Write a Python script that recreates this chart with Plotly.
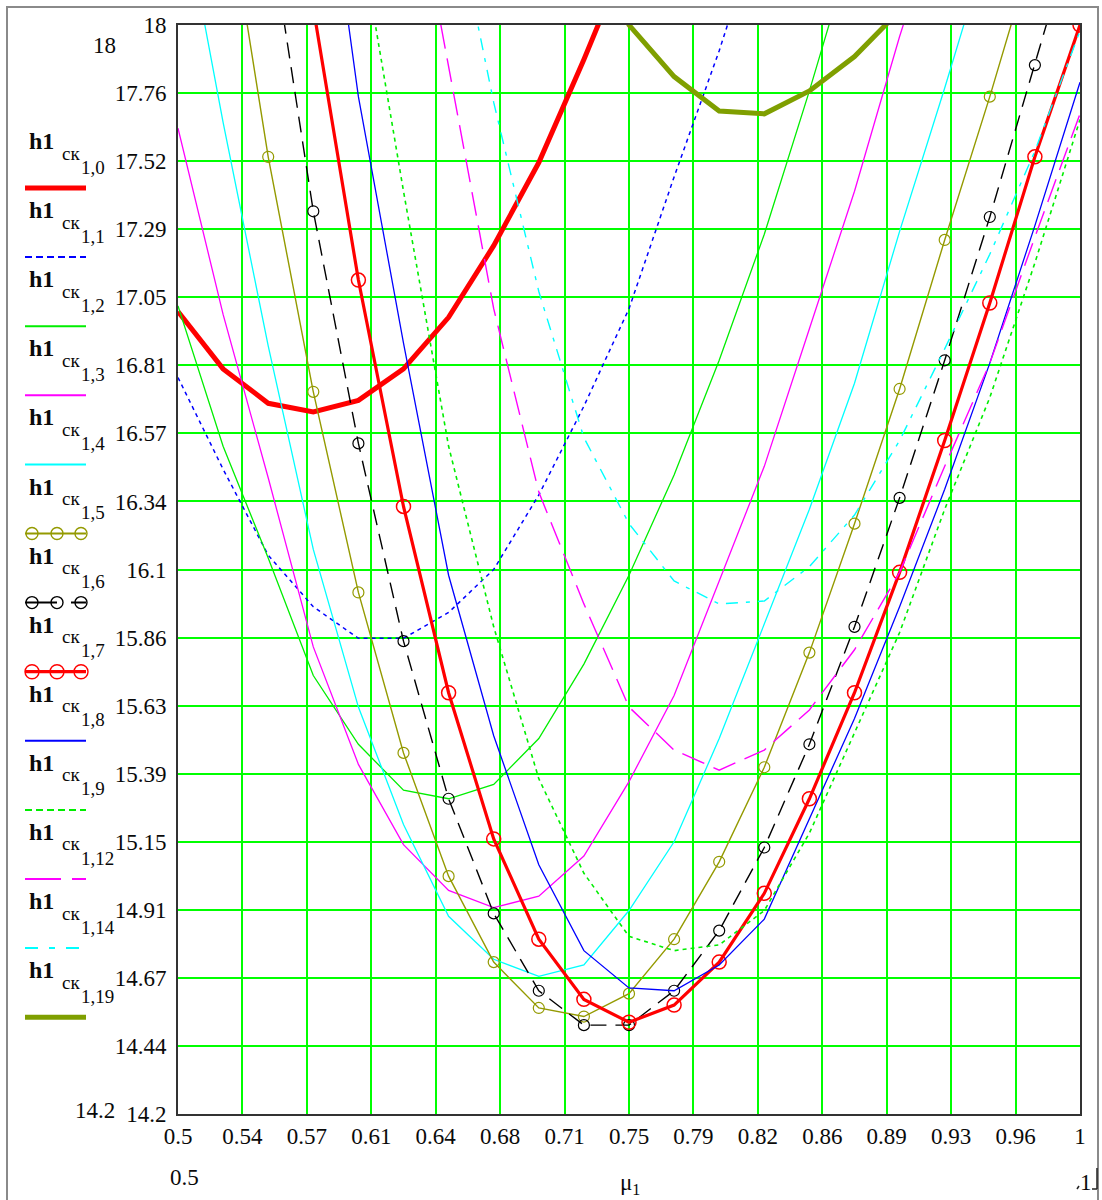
import plotly.graph_objects as go
import numpy as np

# ---------------- data ----------------
mu = [0.5, 0.525, 0.55, 0.575, 0.6, 0.625, 0.65, 0.675, 0.7, 0.725, 0.75,
      0.775, 0.8, 0.825, 0.85, 0.875, 0.9, 0.925, 0.95, 0.975, 1.0]

h_ck_1_0 = [17.0, 16.80, 16.68, 16.65, 16.69, 16.80, 16.98, 17.23, 17.52, 17.88, 18.26,
            None, None, None, None, None, None, None, None, None, None]
h_ck_1_1 = [16.77, 16.45, 16.15, 15.97, 15.86, 15.86, 15.95, 16.10, 16.36, 16.67, 17.01,
            17.47, 17.91, 18.4, None, None, None, None, None, None, None]
h_ck_1_2 = [17.02, 16.53, 16.14, 15.73, 15.49, 15.33, 15.30, 15.35, 15.51, 15.77, 16.08,
            16.43, 16.83, 17.27, 17.77, 18.3, None, None, None, None, None]
h_ck_1_3 = [17.64, 16.99, 16.42, 15.83, 15.42, 15.14, 14.98, 14.92, 14.96, 15.10, 15.36,
            15.66, 16.06, 16.46, 16.94, 17.42, 17.96, 18.45, None, None, None]
h_ck_1_4 = [18.5, 17.66, 16.88, 16.17, 15.62, 15.21, 14.89, 14.74, 14.68, 14.72, 14.91,
            15.15, 15.51, 15.91, 16.31, 16.75, 17.28, 17.78, 18.3, None, None]
h_ck_1_5 = [None, 18.53, 17.54, 16.72, 16.02, 15.46, 15.03, 14.73, 14.57, 14.54, 14.62,
            14.81, 15.08, 15.41, 15.81, 16.26, 16.73, 17.25, 17.75, 18.28, None]
h_ck_1_6 = [None, None, 18.37, 17.35, 16.54, 15.85, 15.30, 14.90, 14.63, 14.51, 14.51,
            14.63, 14.84, 15.13, 15.49, 15.90, 16.35, 16.83, 17.33, 17.86, 18.4]
h_ck_1_7 = [None, None, None, 18.06, 17.11, 16.32, 15.67, 15.16, 14.81, 14.60, 14.52,
            14.58, 14.73, 14.97, 15.30, 15.67, 16.09, 16.55, 17.03, 17.54, 18.0]
h_ck_1_8 = [None, None, None, 18.9, 17.75, 16.89, 16.08, 15.52, 15.07, 14.77, 14.64,
            14.63, 14.72, 14.88, 15.23, 15.58, 15.97, 16.38, 16.82, 17.30, 17.80]
h_ck_1_9 = [None, None, None, None, 18.35, 17.42, 16.53, 15.90, 15.37, 15.04, 14.82,
            14.77, 14.79, 14.91, 15.18, 15.53, 15.88, 16.31, 16.70, 17.17, 17.67]
h_ck_1_12 = [None, None, None, None, None, 18.7, 17.85, 17.01, 16.37, 15.98, 15.62,
             15.47, 15.40, 15.47, 15.61, 15.82, 16.09, 16.46, 16.82, 17.26, 17.69]
h_ck_1_14 = [None, None, None, None, None, None, 18.5, 17.73, 17.07, 16.56, 16.26,
             16.06, 15.98, 15.99, 16.11, 16.29, 16.55, 16.87, 17.20, 17.56, 17.98]
h_ck_1_19 = [None, None, None, None, None, None, None, None, None, 18.35, 18.0,
             17.82, 17.70, 17.69, 17.77, 17.89, 18.05, None, None, None, None]

series_idx = ["1,0", "1,1", "1,2", "1,3", "1,4", "1,5", "1,6", "1,7", "1,8", "1,9",
              "1,12", "1,14", "1,19"]
series_vals = [h_ck_1_0, h_ck_1_1, h_ck_1_2, h_ck_1_3, h_ck_1_4, h_ck_1_5, h_ck_1_6,
               h_ck_1_7, h_ck_1_8, h_ck_1_9, h_ck_1_12, h_ck_1_14, h_ck_1_19]

x_tick_labels = ["0.5", "0.54", "0.57", "0.61", "0.64", "0.68", "0.71", "0.75",
                 "0.79", "0.82", "0.86", "0.89", "0.93", "0.96", "1"]
y_tick_labels = ["14.2", "14.44", "14.67", "14.91", "15.15", "15.39", "15.63", "15.86",
                 "16.1", "16.34", "16.57", "16.81", "17.05", "17.29", "17.52", "17.76", "18"]

# ---------------- styles ----------------
OLIVE_T = "#949a00"
OLIVE_K = "#7f9f00"
GREEN = "#00ee00"
styles = [
    dict(color="#ff0000", width=5, dash="solid", marker=None, ldash="solid"),
    dict(color="#0000ff", width=1.5, dash="4px,4px", marker=None, ldash="7px,4px"),
    dict(color=GREEN, width=1.3, dash="solid", marker=None, ldash="solid"),
    dict(color="#ff00ff", width=1.3, dash="solid", marker=None, ldash="solid"),
    dict(color="#00ffff", width=1.3, dash="solid", marker=None, ldash="solid"),
    dict(color=OLIVE_T, width=1.4, dash="solid", marker=11, ldash="solid"),
    dict(color="#000000", width=1.4, dash="16px,9px", marker=11, ldash="32px,14px"),
    dict(color="#ff0000", width=3.2, dash="solid", marker=14, ldash="solid"),
    dict(color="#0000ff", width=1.3, dash="solid", marker=None, ldash="solid"),
    dict(color=GREEN, width=1.6, dash="4px,4px", marker=None, ldash="7px,4px"),
    dict(color="#ff00ff", width=1.4, dash="24px,10px", marker=None, ldash="36px,11px"),
    dict(color="#00ffff", width=1.4, dash="12px,8px,4px,8px", marker=None, ldash="13px,11px,6px,11px"),
    dict(color=OLIVE_K, width=5, dash="solid", marker=None, ldash="solid"),
]

W, H = 1102, 1200
L, R, T, B = 178, 1080, 25, 1114
XMIN, XMAX, YMIN, YMAX = 0.5, 1.0, 14.2, 18.0

def px(x):
    return (x - L) / (R - L)

def py(y):
    return (B - y) / (B - T)

fig = go.Figure()
for vals, st in zip(series_vals, styles):
    mode = "lines+markers" if st["marker"] else "lines"
    kw = {}
    if st["marker"]:
        kw["marker"] = dict(symbol="circle-open", size=st["marker"], color=st["color"],
                            line=dict(width=1.5 if st["marker"] > 12 else 1.2, color=st["color"]))
    fig.add_trace(go.Scatter(x=mu, y=vals, mode=mode,
                             line=dict(color=st["color"], width=st["width"], dash=st["dash"]),
                             connectgaps=False, showlegend=False, **kw))

FONT = "Liberation Serif"
TXT = "#0a0a0a"
TS = 23

fig.update_layout(
    width=W, height=H,
    margin=dict(l=L, r=W - R, t=T, b=H - B),
    paper_bgcolor="white", plot_bgcolor="white",
    showlegend=False,
    font=dict(family=FONT, size=TS, color=TXT),
    xaxis=dict(range=[XMIN, XMAX], tickmode="array",
               tickvals=list(np.linspace(XMIN, XMAX, len(x_tick_labels))),
               ticktext=x_tick_labels, showgrid=True, gridcolor="#00ff00", gridwidth=2,
               zeroline=False, showline=True, mirror=True, linecolor="#333333", linewidth=2,
               ticks="", ticklabelstandoff=0, tickfont=dict(family=FONT, size=TS, color=TXT)),
    yaxis=dict(range=[YMIN, YMAX], tickmode="array",
               tickvals=list(np.linspace(YMIN, YMAX, len(y_tick_labels))),
               ticktext=y_tick_labels, showgrid=True, gridcolor="#00ff00", gridwidth=2,
               zeroline=False, showline=True, mirror=True, linecolor="#333333", linewidth=2,
               ticks="", ticklabelstandoff=5, tickfont=dict(family=FONT, size=TS, color=TXT)),
)

shapes = []
ann = []

# outer frame
shapes.append(dict(type="rect", xref="paper", yref="paper", x0=px(7), x1=px(1098),
                   y0=py(1215), y1=py(7), line=dict(color="#8a8a8a", width=2), layer="below"))

# legend block
PITCH = 69.1
for k, (idx, st) in enumerate(zip(series_idx, styles)):
    ty = 141 + PITCH * k
    ann.append(dict(xref="paper", yref="paper", x=px(27), y=py(ty), xanchor="left", yanchor="middle",
                    text="<b>h1</b>", showarrow=False, font=dict(family=FONT, size=24, color=TXT)))
    ann.append(dict(xref="paper", yref="paper", x=px(60), y=py(ty + 12), xanchor="left", yanchor="middle",
                    text="ск", showarrow=False, font=dict(family=FONT, size=19, color=TXT)))
    ann.append(dict(xref="paper", yref="paper", x=px(79), y=py(ty + 26), xanchor="left", yanchor="middle",
                    text=idx, showarrow=False, font=dict(family=FONT, size=19, color=TXT)))
    ly = 188 + PITCH * k
    shapes.append(dict(type="line", xref="paper", yref="paper", x0=px(25), x1=px(86),
                       y0=py(ly), y1=py(ly),
                       line=dict(color=st["color"], width=st["width"] if st["width"] > 2 else 2,
                                 dash=st["ldash"])))
    if st["marker"]:
        r = 7 if st["marker"] > 12 else 6
        for cx in (32, 57, 81):
            shapes.append(dict(type="circle", xref="paper", yref="paper",
                               xsizemode="pixel", ysizemode="pixel",
                               xanchor=px(cx), yanchor=py(ly), x0=-r, x1=r, y0=-r, y1=r,
                               line=dict(color=st["color"], width=1.4)))

# Mathcad axis-limit labels and axis name
ann.append(dict(xref="paper", yref="paper", x=px(104), y=py(45), text="18", showarrow=False,
                xanchor="center", yanchor="middle", font=dict(family=FONT, size=TS, color=TXT)))
ann.append(dict(xref="paper", yref="paper", x=px(95), y=py(1110), text="14.2", showarrow=False,
                xanchor="center", yanchor="middle", font=dict(family=FONT, size=TS, color=TXT)))
ann.append(dict(xref="paper", yref="paper", x=px(184), y=py(1177), text="0.5", showarrow=False,
                xanchor="center", yanchor="middle", font=dict(family=FONT, size=TS, color=TXT)))
ann.append(dict(xref="paper", yref="paper", x=px(630), y=py(1184), text="μ<sub>1</sub>", showarrow=False,
                xanchor="center", yanchor="middle", font=dict(family=FONT, size=TS, color=TXT)))
ann.append(dict(xref="paper", yref="paper", x=px(1086), y=py(1182), text="1", showarrow=False,
                xanchor="center", yanchor="middle", font=dict(family=FONT, size=TS, color=TXT)))
# selection bracket marks near the last label
shapes.append(dict(type="line", xref="paper", yref="paper", x0=px(1097), x1=px(1097),
                   y0=py(1168), y1=py(1189), line=dict(color="#222222", width=1.5)))
shapes.append(dict(type="line", xref="paper", yref="paper", x0=px(1092), x1=px(1097),
                   y0=py(1189), y1=py(1189), line=dict(color="#222222", width=1.5)))
shapes.append(dict(type="line", xref="paper", yref="paper", x0=px(1077), x1=px(1079),
                   y0=py(1189), y1=py(1186), line=dict(color="#222222", width=1.5)))

fig.update_layout(shapes=shapes, annotations=ann)
fig.write_html("out.html")
